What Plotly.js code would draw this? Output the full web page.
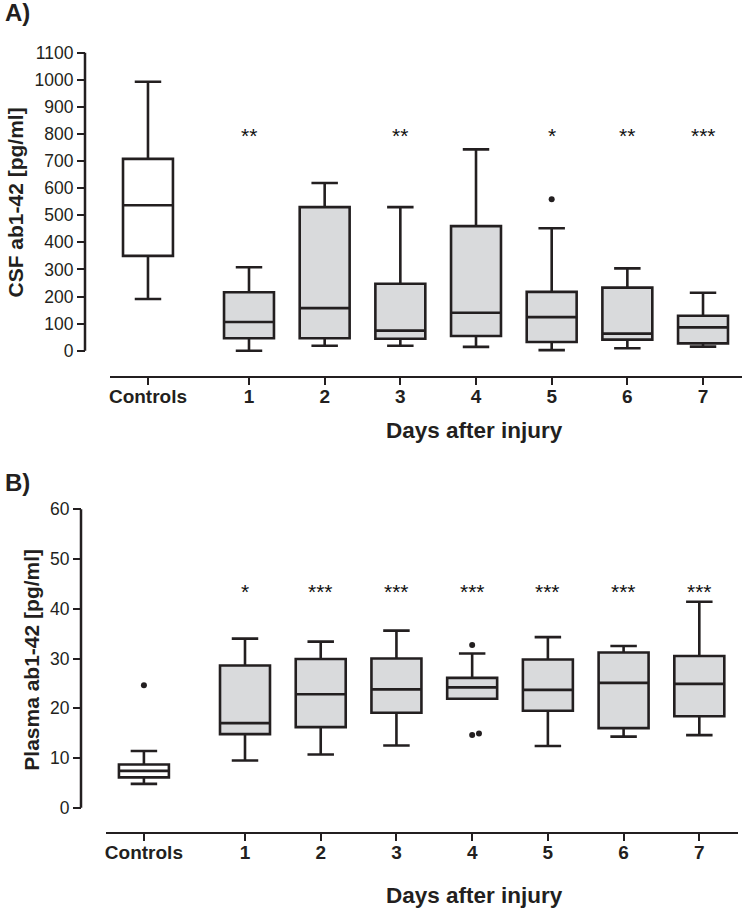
<!DOCTYPE html>
<html>
<head>
<meta charset="utf-8">
<script src="https://cdn.plot.ly/plotly-3.0.1.min.js"></script>
<style>html,body{margin:0;padding:0;background:#fff}</style>
</head>
<body>
<div id="chart" style="width:746px;height:913px"></div>
<script>
// ---------- data ----------
const categories = ["Controls", "1", "2", "3", "4", "5", "6", "7"];

// Panel A: CSF ab1-42 [pg/ml]
const csfUpper  = [993, 308, 619, 530, 743, 452, 304, 214];
const csfQ3     = [708, 216, 530, 247, 460, 217, 233, 129];
const csfMedian = [537, 106, 157,  74, 140, 124,  63,  86];
const csfQ1     = [350,  46,  46,  44,  54,  32,  41,  27];
const csfLower  = [191,   0,  18,  18,  14,   2,   9,  15];
const csfOutlierCat = ["5"];
const csfOutliers   = [559];
const csfStars = ["", "**", "", "**", "", "*", "**", "***"];
const csfTicks = [0, 100, 200, 300, 400, 500, 600, 700, 800, 900, 1000, 1100];

// Panel B: Plasma ab1-42 [pg/ml]
const plUpper  = [11.4, 34.0, 33.4, 35.6, 31.0, 34.3, 32.5, 41.4];
const plQ3     = [ 8.7, 28.6, 29.9, 30.0, 26.1, 29.8, 31.2, 30.5];
const plMedian = [ 7.4, 17.0, 22.8, 23.8, 24.2, 23.7, 25.1, 24.9];
const plQ1     = [ 6.1, 14.8, 16.2, 19.1, 21.9, 19.5, 16.0, 18.4];
const plLower  = [ 4.8,  9.5, 10.7, 12.5, 21.9, 12.4, 14.3, 14.6];
const plOutlierCat = ["Controls", "4", "4", "4"];
const plOutliers   = [24.6, 32.7, 14.6, 14.9];
const plStars = ["", "*", "***", "***", "***", "***", "***", "***"];
const plTicks = [0, 10, 20, 30, 40, 50, 60];

const xTitle = "Days after injury";
const csfTitle = "CSF ab1-42 [pg/ml]";
const plTitle = "Plasma ab1-42 [pg/ml]";

// ---------- layout helpers ----------
const W = 746, H = 913;
const px = p => p / W;
const py = p => 1 - p / H;
const catPos = {"Controls": -0.335, "1": 1, "2": 2, "3": 3, "4": 4, "5": 5, "6": 6, "7": 7};
const outlierShift = [0, 0, 0, 0.09]; // horizontal nudge of overlapping dots (panel B)
const INK = "#231f20", FILL = "#d9dadc", FONT = "Liberation Sans, Arial, sans-serif";

// panel geometry (pixels)
const A = {y0: 350.7, yTop: 52.7, top: 45, bot: 365, xl: 110, xr: 741.7, c1: 249, unit: 75.67, axisX: 85, xLine: 376.7};
const B = {y0: 807.7, yTop: 509.3, top: 500, bot: 820, xl: 106, xr: 738.3, c1: 245, unit: 75.72, axisX: 81, xLine: 833.3};
function yRange(g, maxV) { const k = (g.y0 - g.yTop) / maxV; return [-(g.bot - g.y0) / k, maxV + (g.yTop - g.top) / k]; }
function xRange(g) { return [1 + (g.xl - g.c1) / g.unit, 1 + (g.xr - g.c1) / g.unit]; }

function boxTraces(cats, lo, q1, med, q3, hi, xa, ya) {
  const out = [];
  const groups = [[0], [1, 2, 3, 4, 5, 6, 7]];
  const fills = ["#ffffff", FILL];
  groups.forEach((idx, gi) => {
    out.push({
      type: "box", xaxis: xa, yaxis: ya,
      x: idx.map(i => catPos[cats[i]]),
      lowerfence: idx.map(i => lo[i]), q1: idx.map(i => q1[i]), median: idx.map(i => med[i]),
      q3: idx.map(i => q3[i]), upperfence: idx.map(i => hi[i]),
      width: 0.66, whiskerwidth: 0.53, boxpoints: false,
      fillcolor: fills[gi], line: {color: INK, width: 2.6},
      hoverinfo: "skip", showlegend: false
    });
  });
  return out;
}

const traces = [
  ...boxTraces(categories, csfLower, csfQ1, csfMedian, csfQ3, csfUpper, "x", "y"),
  ...boxTraces(categories, plLower, plQ1, plMedian, plQ3, plUpper, "x2", "y2"),
  {type: "scatter", mode: "markers", xaxis: "x", yaxis: "y", x: csfOutlierCat.map(c => catPos[c]), y: csfOutliers,
   marker: {color: INK, size: 6}, showlegend: false, hoverinfo: "skip", cliponaxis: false},
  {type: "scatter", mode: "markers", xaxis: "x2", yaxis: "y2", x: plOutlierCat.map((c, i) => catPos[c] + outlierShift[i]), y: plOutliers,
   marker: {color: INK, size: 6}, showlegend: false, hoverinfo: "skip", cliponaxis: false}
];

const annotations = [];
function starAnn(stars, xr, yr, yv) {
  stars.forEach((s, i) => { if (s) annotations.push({xref: xr, yref: yr, x: catPos[categories[i]], y: yv, text: s, showarrow: false,
    font: {family: FONT, size: 21, color: "#111"}, xanchor: "center", yanchor: "middle"}); });
}
starAnn(csfStars, "x", "y", 795);
starAnn(plStars, "x2", "y2", 43.4);
annotations.push(
  {xref: "paper", yref: "paper", x: px(3), y: py(13), text: "<b>A)</b>", showarrow: false, xanchor: "left", yanchor: "middle", font: {family: FONT, size: 24, color: INK}},
  {xref: "paper", yref: "paper", x: px(3), y: py(482), text: "<b>B)</b>", showarrow: false, xanchor: "left", yanchor: "middle", font: {family: FONT, size: 24, color: INK}},
  {xref: "paper", yref: "paper", x: px(15), y: py(202.5), text: "<b>" + csfTitle + "</b>", textangle: -90, showarrow: false, xanchor: "center", yanchor: "middle", font: {family: FONT, size: 21, color: INK}},
  {xref: "paper", yref: "paper", x: px(32), y: py(659.7), text: "<b>" + plTitle + "</b>", textangle: -90, showarrow: false, xanchor: "center", yanchor: "middle", font: {family: FONT, size: 21, color: INK}},
  {xref: "paper", yref: "paper", x: px(474), y: py(430), text: "<b>" + xTitle + "</b>", showarrow: false, xanchor: "center", yanchor: "middle", font: {family: FONT, size: 22.5, color: INK}},
  {xref: "paper", yref: "paper", x: px(474), y: py(895), text: "<b>" + xTitle + "</b>", showarrow: false, xanchor: "center", yanchor: "middle", font: {family: FONT, size: 22.5, color: INK}}
);

const shapes = [
  {type: "line", xref: "paper", yref: "y", x0: px(A.axisX), x1: px(A.axisX), y0: csfTicks[0], y1: csfTicks[csfTicks.length - 1], line: {color: INK, width: 2.5}},
  {type: "line", xref: "paper", yref: "y2", x0: px(B.axisX), x1: px(B.axisX), y0: plTicks[0], y1: plTicks[plTicks.length - 1], line: {color: INK, width: 2.5}}
];

function xAxis(g, yLine) {
  return {domain: [px(g.xl), px(g.xr)], range: xRange(g), anchor: "free", position: py(yLine),
    showline: true, linecolor: INK, linewidth: 2, ticks: "outside", ticklen: 7, tickwidth: 2, tickcolor: INK,
    ticklabelstandoff: -5,
    tickvals: categories.map(c => catPos[c]), ticktext: categories.map(c => "<b>" + c + "</b>"),
    tickfont: {family: FONT, size: 19, color: INK}, showgrid: false, zeroline: false, fixedrange: true};
}
function yAxis(g, maxV, ticks) {
  return {domain: [py(g.bot), py(g.top)], range: yRange(g, maxV), anchor: "free", position: px(g.axisX),
    showline: false, ticks: "outside", ticklen: 8, tickwidth: 2, tickcolor: INK,
    tickvals: ticks, ticktext: ticks.map(String), tickfont: {family: FONT, size: 17.5, color: INK},
    showgrid: false, zeroline: false, fixedrange: true};
}

const layout = {
  width: W, height: H, margin: {l: 0, r: 0, t: 0, b: 0},
  paper_bgcolor: "#fff", plot_bgcolor: "rgba(0,0,0,0)", showlegend: false,
  xaxis: xAxis(A, A.xLine), yaxis: yAxis(A, 1100, csfTicks),
  xaxis2: xAxis(B, B.xLine), yaxis2: yAxis(B, 60, plTicks),
  annotations, shapes
};
Plotly.newPlot("chart", traces, layout, {displayModeBar: false, staticPlot: true});
</script>
</body>
</html>
